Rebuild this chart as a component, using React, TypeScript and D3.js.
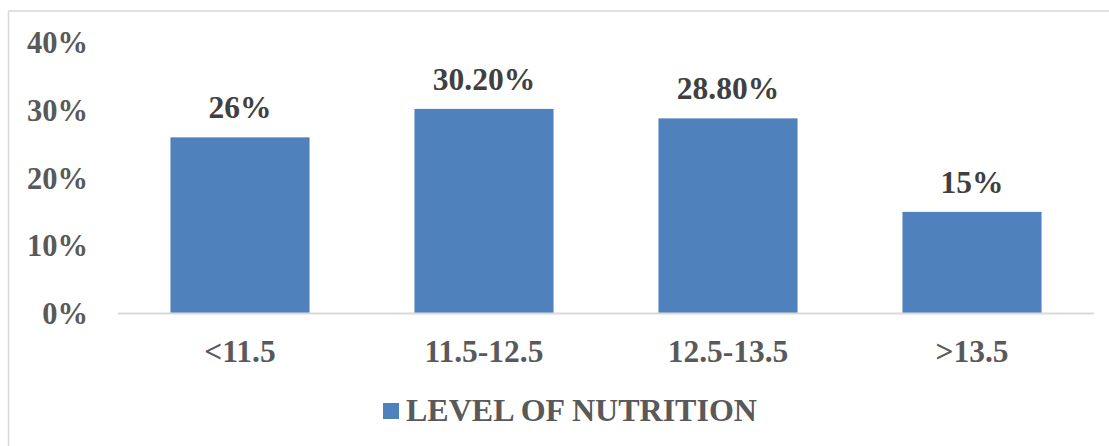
import React from "react";
import * as d3 from "d3";

const categories = ["<11.5", "11.5-12.5", "12.5-13.5", ">13.5"];
const values = [26, 30.2, 28.8, 15];
const valueLabels = ["26%", "30.20%", "28.80%", "15%"];
const yTicks = [0, 10, 20, 30, 40];
const seriesName = "LEVEL OF NUTRITION";

const W = 1109;
const H = 446;
const FONT = "'Liberation Serif', 'Times New Roman', serif";

export default function App() {
  const x = d3
    .scaleBand<string>()
    .domain(categories)
    .range([118, 1094])
    .paddingInner(0.43)
    .paddingOuter(0.215);
  const y = d3.scaleLinear().domain([0, 40]).range([313.5, 42.5]);

  return (
    <svg
      width={W}
      height={H}
      style={{ position: "absolute", left: 0, top: 0, background: "#fff" }}
      fontFamily={FONT}
      fontWeight="bold"
    >
      <line x1={8.5} x2={W} y1={11} y2={11} stroke="#d9d9d9" strokeWidth={1.5} />
      <line x1={8.5} x2={8.5} y1={11} y2={H} stroke="#d9d9d9" strokeWidth={1.5} />

      {yTicks.map((t) => (
        <text
          key={t}
          x={88}
          y={y(t) + 10.5}
          textAnchor="end"
          fontSize={30.5}
          fill="#595959"
        >
          {t}%
        </text>
      ))}

      {values.map((v, i) => (
        <rect
          key={categories[i]}
          x={x(categories[i])}
          y={y(v)}
          width={x.bandwidth()}
          height={y(0) - y(v)}
          fill="#4f81bd"
        />
      ))}

      <line x1={118} x2={1094} y1={y(0)} y2={y(0)} stroke="#d9d9d9" strokeWidth={2} />

      {values.map((v, i) => (
        <text
          key={"l" + i}
          x={(x(categories[i]) as number) + x.bandwidth() / 2}
          y={y(v) - 19}
          textAnchor="middle"
          fontSize={31.5}
          fill="#404040"
        >
          {valueLabels[i]}
        </text>
      ))}

      {categories.map((c) => (
        <text
          key={"c" + c}
          x={(x(c) as number) + x.bandwidth() / 2}
          y={361.5}
          textAnchor="middle"
          fontSize={31.5}
          fill="#595959"
        >
          {c}
        </text>
      ))}

      <rect x={383} y={403} width={16} height={16} fill="#4f81bd" />
      <text x={406} y={421} fontSize={32} fill="#595959">
        {seriesName}
      </text>
    </svg>
  );
}
